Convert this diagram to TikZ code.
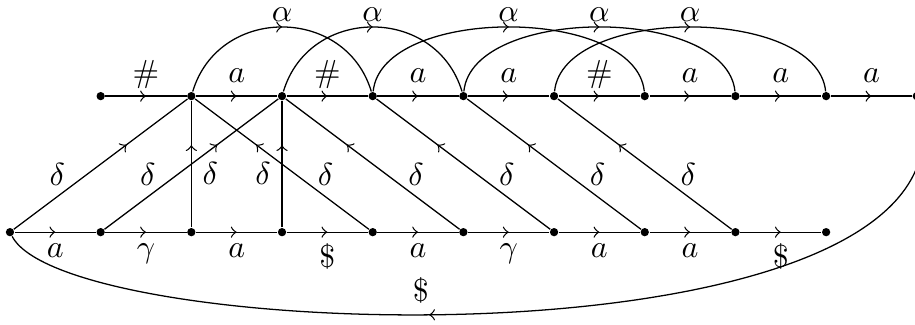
\documentclass[tikz,border=0pt]{standalone}
\usetikzlibrary{decorations.markings}
\begin{document}
\begin{tikzpicture}[
  dot/.style={circle,fill=black,inner sep=0pt,minimum size=2.6pt},
  marr/.style={postaction={decorate},decoration={markings,mark=at position #1 with {\arrow{>}}}},
  toplab/.style={anchor=base,yshift=0.145cm},
  botlab/.style={below},
  dlab/.style={pos=0.25,above},
  alab/.style={midway,above=1.6pt,inner sep=0pt},
]
\useasboundingbox (-0.11,-1.02) rectangle (9.98,2.56);
\foreach \i in {0,...,9} {
  \node[dot] (t\i) at (\i+1,1.5) {};
  \node[dot] (b\i) at (\i,0) {};
}
% top row
\draw[marr=0.5] (t0) -- node[toplab]{$\#$} (t1);
\draw[marr=0.5] (t1) -- node[toplab]{$a$} (t2);
\draw[marr=0.5] (t2) -- node[toplab]{$\#$} (t3);
\draw[marr=0.5] (t3) -- node[toplab]{$a$} (t4);
\draw[marr=0.5] (t4) -- node[toplab]{$a$} (t5);
\draw[marr=0.5] (t5) -- node[toplab]{$\#$} (t6);
\draw[marr=0.5] (t6) -- node[toplab]{$a$} (t7);
\draw[marr=0.5] (t7) -- node[toplab]{$a$} (t8);
\draw[marr=0.5] (t8) -- node[toplab]{$a$} (t9);
% bottom row
\draw[marr=0.5] (b0) -- node[botlab]{$a$} (b1);
\draw[marr=0.5] (b1) -- node[botlab]{$\gamma$} (b2);
\draw[marr=0.5] (b2) -- node[botlab]{$a$} (b3);
\draw[marr=0.5] (b3) -- node[botlab]{$\$$} (b4);
\draw[marr=0.5] (b4) -- node[botlab]{$a$} (b5);
\draw[marr=0.5] (b5) -- node[botlab]{$\gamma$} (b6);
\draw[marr=0.5] (b6) -- node[botlab]{$a$} (b7);
\draw[marr=0.5] (b7) -- node[botlab]{$a$} (b8);
\draw[marr=0.5] (b8) -- node[botlab]{$\$$} (b9);
% delta edges
\draw[marr=0.65] (b0) -- node[dlab]{$\delta$} (t1);
\draw[marr=0.65] (b1) -- node[dlab]{$\delta$} (t2);
\draw[marr=0.65] (b2) -- node[pos=0.25,above right]{$\delta$} (t1);
\draw[marr=0.65] (b3) -- node[pos=0.25,above left]{$\delta$} (t2);
\draw[marr=0.65] (b4) -- node[dlab]{$\delta$} (t1);
\draw[marr=0.65] (b5) -- node[dlab]{$\delta$} (t2);
\draw[marr=0.65] (b6) -- node[dlab]{$\delta$} (t3);
\draw[marr=0.65] (b7) -- node[dlab]{$\delta$} (t4);
\draw[marr=0.65] (b8) -- node[dlab]{$\delta$} (t5);
% alpha arcs
\draw[marr=0.5] (t1) .. controls +(0.3,1) and +(-0.3,1) .. (t3) node[alab]{$\alpha$};
\draw[marr=0.5] (t2) .. controls +(0.3,1) and +(-0.3,1) .. (t4) node[alab]{$\alpha$};
\draw[marr=0.5] (t3) .. controls +(0.1,1) and +(-0.1,1) .. (t6) node[alab]{$\alpha$};
\draw[marr=0.5] (t4) .. controls +(0.1,1) and +(-0.1,1) .. (t7) node[alab]{$\alpha$};
\draw[marr=0.5] (t5) .. controls +(0.1,1) and +(-0.1,1) .. (t8) node[alab]{$\alpha$};
% long return edge
\coordinate (c1) at (10.92,-1.54);
\coordinate (c2) at (0.66,-1.27);
\draw[marr=0.58] (t9) .. controls (c1) and (c2) .. (b0) node[pos=0.57,above]{$\$$};
\end{tikzpicture}
\end{document}
